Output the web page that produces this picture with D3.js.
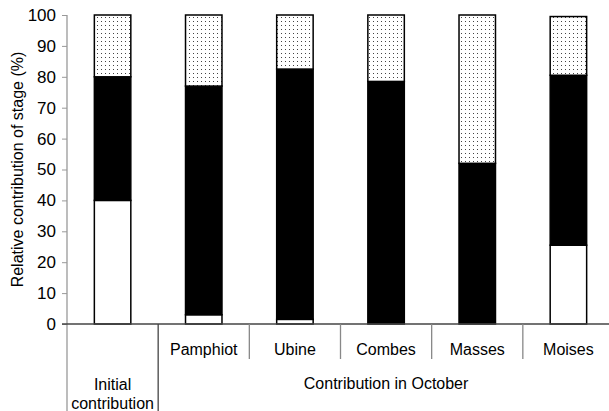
<!DOCTYPE html>
<html>
<head>
<meta charset="utf-8">
<script src="https://cdn.jsdelivr.net/npm/d3@7"></script>
<style>
  body { margin: 0; background: #fff; }
  text { font-family: Arial, "Liberation Sans", sans-serif; }
</style>
</head>
<body>
<div id="wrapper"></div>
<script>
// categories along x (first one is the initial contribution)
const categories = ["Initial", "Pamphiot", "Ubine", "Combes", "Masses", "Moises"];
// stage contributions in %, bottom to top
const stageWhite = [40, 3, 1.5, 0, 0, 25.5];
const stageBlack = [40, 74, 81, 78.5, 52, 55];
const stageDotted = [20, 23, 17.5, 21.5, 48, 19];
const yTicks = [0, 10, 20, 30, 40, 50, 60, 70, 80, 90, 100];

function buildChart() {
    const dim = { width: 609, height: 411, left: 67, right: 614, top: 15, bottom: 324 };
    const fontSize = "16px";

    const rows = categories.map((c, i) => ({
        cat: c, white: stageWhite[i], black: stageBlack[i], dotted: stageDotted[i]
    }));

    const svg = d3.select("#wrapper").append("svg")
        .attr("width", dim.width)
        .attr("height", dim.height);

    // dotted fill
    const pat = svg.append("defs").append("pattern")
        .attr("id", "dots")
        .attr("patternUnits", "userSpaceOnUse")
        .attr("width", 4).attr("height", 4);
    pat.append("rect").attr("width", 4).attr("height", 4).attr("fill", "#fff");
    pat.append("rect").attr("x", 1).attr("y", 1).attr("width", 1).attr("height", 1).attr("fill", "#444");

    const x = d3.scaleBand()
        .domain(categories)
        .range([dim.left, dim.right])
        .paddingInner(0.6)
        .paddingOuter(0.3);

    const y = d3.scaleLinear()
        .domain([0, 100])
        .range([dim.bottom, dim.top]);

    // y axis
    const yAxis = svg.append("g")
        .attr("transform", `translate(${dim.left},0)`)
        .call(d3.axisLeft(y).tickValues(yTicks).tickSize(5).tickSizeOuter(0));
    yAxis.select(".domain").remove();
    yAxis.selectAll(".tick line").attr("stroke", "#999");
    yAxis.selectAll(".tick text")
        .attr("x", -11)
        .attr("fill", "#000")
        .style("font-size", "17px");

    svg.append("line")
        .attr("x1", dim.left).attr("x2", dim.left)
        .attr("y1", dim.top).attr("y2", dim.height)
        .attr("stroke", "#999").attr("stroke-width", 1.3);

    // stacked bars
    const stack = d3.stack().keys(["white", "black", "dotted"]);
    const fills = { white: "#fff", black: "#000", dotted: "url(#dots)" };

    svg.append("g").selectAll("g")
        .data(stack(rows))
        .join("g")
        .attr("fill", d => fills[d.key])
        .selectAll("rect")
        .data(d => d.filter(s => s[1] - s[0] > 0))
        .join("rect")
        .attr("x", d => x(d.data.cat))
        .attr("y", d => y(d[1]))
        .attr("width", x.bandwidth())
        .attr("height", d => y(d[0]) - y(d[1]))
        .attr("stroke", "#000")
        .attr("stroke-width", 1.5);

    // baseline
    svg.append("line")
        .attr("x1", dim.left - 5).attr("x2", dim.width)
        .attr("y1", y(0)).attr("y2", y(0))
        .attr("stroke", "#444").attr("stroke-width", 1.3);

    // category separators below the axis
    const step = x.step();
    categories.slice(1).forEach((c, i) => {
        const sx = dim.left + step * (i + 1);
        svg.append("line")
            .attr("x1", sx).attr("x2", sx)
            .attr("y1", y(0))
            .attr("y2", i === 0 ? dim.height : 359)
            .attr("stroke", i === 0 ? "#444" : "#888")
            .attr("stroke-width", 1.3);
    });

    // category labels
    svg.append("g").selectAll("text")
        .data(categories.slice(1))
        .join("text")
        .attr("x", d => x(d) + x.bandwidth() / 2)
        .attr("y", 355)
        .attr("text-anchor", "middle")
        .style("font-size", fontSize)
        .text(d => d);

    const cx0 = x("Initial") + x.bandwidth() / 2;
    svg.append("text").attr("x", cx0).attr("y", 390)
        .attr("text-anchor", "middle").style("font-size", fontSize).text("Initial");
    svg.append("text").attr("x", cx0).attr("y", 409)
        .attr("text-anchor", "middle").style("font-size", fontSize).text("contribution");

    svg.append("text")
        .attr("x", (dim.left + step + dim.right) / 2)
        .attr("y", 389)
        .attr("text-anchor", "middle")
        .style("font-size", fontSize)
        .text("Contribution in October");

    // y title
    svg.append("text")
        .attr("transform", `translate(23,${(dim.top + dim.bottom) / 2}) rotate(-90)`)
        .attr("text-anchor", "middle")
        .style("font-size", fontSize)
        .text("Relative contribution of stage (%)");
}

buildChart();
</script>
</body>
</html>
